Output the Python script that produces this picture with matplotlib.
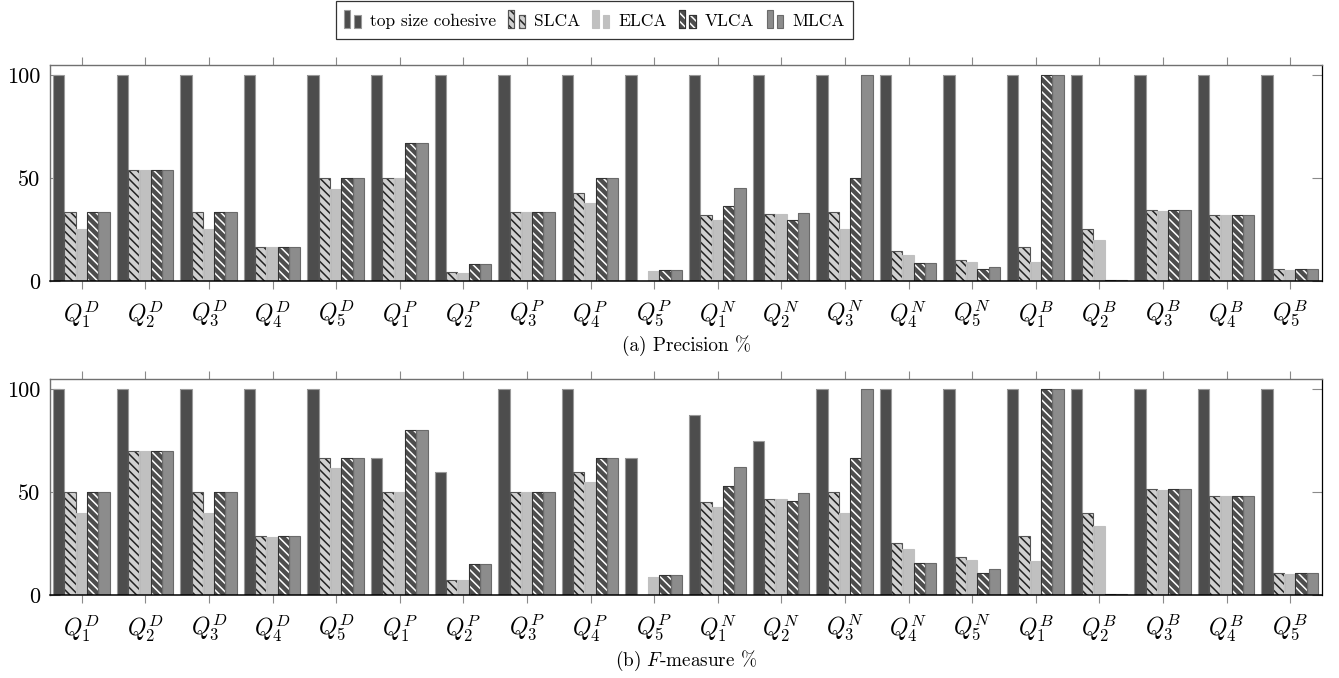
import matplotlib
matplotlib.use("Agg")
import matplotlib.pyplot as plt
import numpy as np
from matplotlib.patches import Rectangle
from matplotlib.legend_handler import HandlerBase

plt.rcParams["font.family"] = "serif"
plt.rcParams["font.serif"] = ["cmr10"]
plt.rcParams["mathtext.fontset"] = "cm"
plt.rcParams["axes.formatter.use_mathtext"] = True
plt.rcParams["hatch.linewidth"] = 1.1

# Query labels
queries = [r"$Q_{%d}^{%s}$" % (i, s) for s in "DPNB" for i in range(1, 6)]

methods = ["top size cohesive", "SLCA", "ELCA", "VLCA", "MLCA"]

# (a) Precision %
prec_tsc = [100] * 20
prec_slca = [33.3, 53.8, 33.3, 16.7, 50, 50, 4.2, 33.3, 42.9, 0,
             31.8, 32.3, 33.3, 14.4, 10.0, 16.7, 25, 34.4, 31.8, 5.6]
prec_elca = [25, 53.8, 25, 16.4, 44.5, 50, 4.0, 33.3, 37.6, 4.8,
             29.4, 32.3, 25, 12.4, 9.2, 9.1, 20, 33.9, 31.8, 5.3]
prec_vlca = [33.3, 53.8, 33.3, 16.7, 50, 66.7, 8.3, 33.3, 50, 5.1,
             36.2, 29.7, 50, 8.5, 5.6, 100, 0.3, 34.4, 31.8, 5.6]
prec_mlca = [33.3, 53.8, 33.3, 16.7, 50, 66.7, 8.3, 33.3, 50, 5.1,
             45.0, 33.0, 100, 8.5, 6.8, 100, 0.3, 34.4, 31.8, 5.6]

# (b) F-measure %
f_tsc = [100, 100, 100, 100, 100, 66.7, 60, 100, 100, 66.7,
         87.7, 75, 100, 100, 100, 100, 100, 100, 100, 100]
f_slca = [50, 70, 50, 28.7, 66.7, 50, 7.1, 50, 60, 0,
          45.2, 46.5, 50, 25.1, 18.3, 28.6, 40, 51.4, 48.3, 10.6]
f_elca = [40, 70, 40, 28.4, 61.7, 50, 7.1, 50, 54.8, 8.9,
          42.6, 46.5, 40, 22.2, 16.9, 16.7, 33.3, 50.9, 48.3, 10.0]
f_vlca = [50, 70, 50, 28.7, 66.7, 80, 15, 50, 66.7, 9.6,
          53.2, 45.8, 66.7, 15.4, 10.5, 100, 0.3, 51.4, 48.3, 10.6]
f_mlca = [50, 70, 50, 28.7, 66.7, 80, 15, 50, 66.7, 9.6,
          62.1, 49.7, 100, 15.4, 12.5, 100, 0.3, 51.4, 48.3, 10.6]

# bar styles: face, edge, hatch, hatch colour
styles = [
    dict(face="#4d4d4d", edge="#9a9a9a", hatch=None, hc=None),
    dict(face="#d0d0d0", edge="#555555", hatch="\\\\\\\\", hc="#222222"),
    dict(face="#c0c0c0", edge="#c0c0c0", hatch=None, hc=None),
    dict(face="#4d4d4d", edge="#333333", hatch="\\\\\\\\", hc="white"),
    dict(face="#8c8c8c", edge="#6a6a6a", hatch=None, hc=None),
]


class TwoBarHandler(HandlerBase):
    def create_artists(self, legend, orig_handle, xdescent, ydescent,
                       width, height, fontsize, trans):
        st = orig_handle.style
        arts = []
        bw = width * 0.36
        y0 = -ydescent + height * 0.12
        for x0, h in [(0, height * 0.82), (width * 0.6, height * 0.62)]:
            arts.append(Rectangle((x0, y0), bw, h, facecolor=st["face"],
                                  edgecolor=st["edge"], lw=0.8, transform=trans))
            if st["hatch"]:
                arts.append(Rectangle((x0, y0), bw, h, facecolor="none",
                                      edgecolor=st["hc"], hatch=st["hatch"],
                                      lw=0, transform=trans))
                arts.append(Rectangle((x0, y0), bw, h, facecolor="none",
                                      edgecolor=st["edge"], lw=0.8,
                                      transform=trans))
        return arts


def draw_panel(ax, series):
    x = np.arange(len(queries))
    w = 0.178
    for k, (vals, st) in enumerate(zip(series, styles)):
        pos = x + (k - 2) * w - 0.008
        ax.bar(pos, vals, width=w, color=st["face"], linewidth=0, zorder=2)
        if st["hatch"]:
            ax.bar(pos, vals, width=w, facecolor="none", edgecolor=st["hc"],
                   hatch=st["hatch"], linewidth=0, zorder=3)
        ax.bar(pos, vals, width=w, facecolor="none", edgecolor=st["edge"],
               linewidth=0.8, zorder=4)
    ax.set_xlim(-0.5, 19.5)
    ax.set_ylim(0, 105)
    ax.set_xticks(x)
    ax.set_xticklabels(queries, fontsize=17)
    ax.set_yticks([0, 50, 100])
    ax.set_yticklabels(["0", "50", "100"], fontsize=16)
    ax.tick_params(axis="x", direction="out", length=6, width=0.8,
                   color="#8a8a8a", top=True, pad=7)
    ax.tick_params(axis="y", direction="in", length=7, width=0.8,
                   color="#8a8a8a", right=True, pad=7)
    for side in ["top", "left"]:
        ax.spines[side].set_color("#707070")
        ax.spines[side].set_linewidth(1.0)
    ax.spines["bottom"].set_color("black")
    ax.spines["bottom"].set_linewidth(1.1)
    ax.spines["bottom"].set_zorder(6)
    ax.spines["right"].set_color("black")
    ax.spines["right"].set_linewidth(0.9)


fig = plt.figure(figsize=(13.39, 6.78), dpi=100)
W, H = 1339, 678
ax1 = fig.add_axes([50 / W, 1 - 281 / H, 1272 / W, 216.5 / H])
ax2 = fig.add_axes([50 / W, 1 - 595 / H, 1272 / W, 216 / H])

draw_panel(ax1, [prec_tsc, prec_slca, prec_elca, prec_vlca, prec_mlca])
draw_panel(ax2, [f_tsc, f_slca, f_elca, f_vlca, f_mlca])

fig.text(686 / W, 1 - 346 / H, "(a) Precision %", ha="center", va="center",
         fontsize=13.8)
fig.text(686 / W, 1 - 661 / H, r"(b) $F$-measure %", ha="center",
         va="center", fontsize=13.8)

# legend with two-bar handles
proxies = []
for st in styles:
    p = Rectangle((0, 0), 1, 1)
    p.style = st
    proxies.append(p)
leg = fig.legend(proxies, methods, loc="upper center",
                 bbox_to_anchor=(594.5 / W, 1 - 1 / H), ncol=5,
                 handler_map={Rectangle: TwoBarHandler()},
                 fontsize=12.5, frameon=True, fancybox=False,
                 handlelength=1.0, handleheight=1.6, handletextpad=0.5,
                 columnspacing=0.7, borderpad=0.45, borderaxespad=0)
leg.get_frame().set_edgecolor("black")
leg.get_frame().set_linewidth(0.9)

fig.savefig("out.png", dpi=100)
plt.close(fig)
